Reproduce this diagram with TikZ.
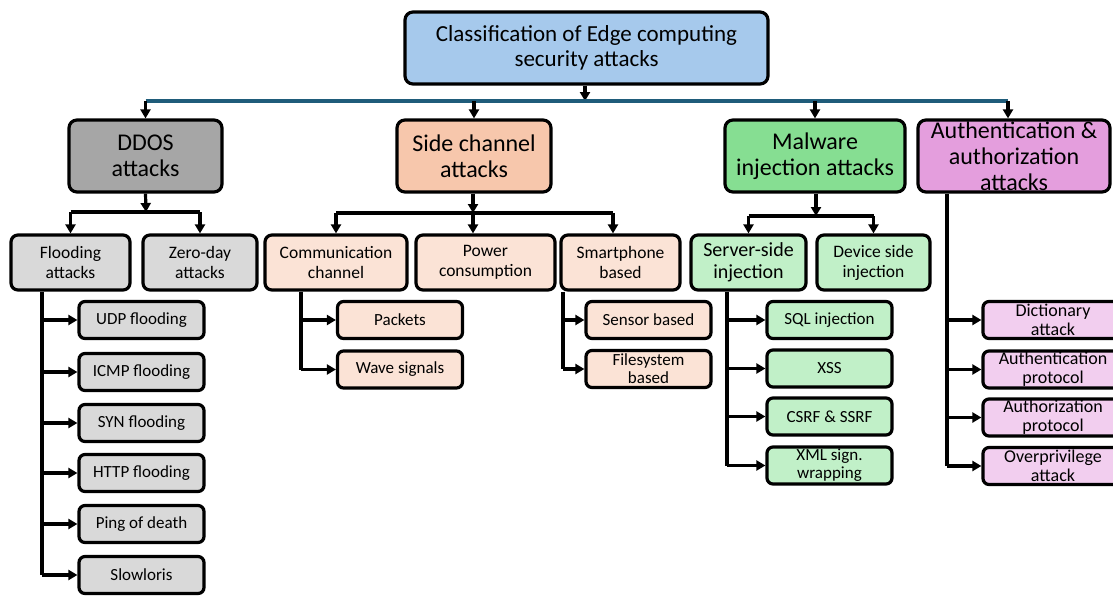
\documentclass[tikz,border=0pt]{standalone}
\usepackage{fontspec}
\setmainfont{Carlito}
\usetikzlibrary{arrows.meta}
\definecolor{rootc}{RGB}{166,201,236}
\definecolor{ddosc}{RGB}{166,166,166}
\definecolor{sidec}{RGB}{247,199,172}
\definecolor{malc}{RGB}{134,222,146}
\definecolor{authc}{RGB}{228,158,221}
\definecolor{ddosl}{RGB}{217,217,217}
\definecolor{sidel}{RGB}{251,227,214}
\definecolor{mall}{RGB}{193,240,200}
\definecolor{authl}{RGB}{242,206,239}
\definecolor{busc}{RGB}{31,92,122}
\tikzset{
  box/.style={draw=black, line width=3.2pt, rounded corners=8pt, inner sep=0pt, align=center},
  big/.style={box, minimum height=72pt, font=\fontsize{24}{26}\selectfont},
  mid/.style={box, minimum height=55pt, rounded corners=7pt, font=\fontsize{17.5}{20}\selectfont},
  small/.style={box, minimum height=37pt, minimum width=125pt, rounded corners=6pt, font=\fontsize{17}{18}\selectfont},
  ln/.style={line width=3.2pt, black},
  arr/.style={ln, -{Triangle[length=9pt,width=10pt]}},
}
\begin{document}
\begin{tikzpicture}[x=1pt,y=-1pt]
\useasboundingbox (0,0) rectangle (1113,595);
% level 0
\node[box, minimum width=363pt, minimum height=72pt, fill=rootc, font=\fontsize{23}{25}\selectfont] (root) at (586.5,48) {Classification of Edge computing\\security attacks};
% level 1
\node[big, minimum width=153pt, fill=ddosc] (ddos) at (145.5,156) {DDOS\\attacks};
\node[big, minimum width=154pt, fill=sidec] (side) at (474,156) {Side channel\\attacks};
\node[big, minimum width=180pt, fill=malc] (mal) at (815,156) {Malware\\injection attacks};
\node[big, minimum width=192pt, fill=authc] (auth) at (1014,156) {Authentication \&\\authorization\\attacks};
% level 2
\node[mid, minimum width=119pt, fill=ddosl] (flood) at (70.5,262.5) {Flooding\\attacks};
\node[mid, minimum width=114pt, fill=ddosl] (zero) at (200,262.5) {Zero-day\\attacks};
\node[mid, minimum width=142pt, fill=sidel] (comm) at (336,262.5) {Communication\\channel};
\node[mid, minimum width=139pt, fill=sidel] (power) at (485.5,262.5) {Power\\consumption};
\node[mid, minimum width=119pt, fill=sidel] (smart) at (620.5,262.5) {Smartphone\\based};
\node[mid, minimum width=115pt, fill=mall, font=\fontsize{20}{22}\selectfont] (server) at (748.5,262.5) {Server-side\\injection};
\node[mid, minimum width=113pt, fill=mall] (device) at (873.5,262.5) {Device side\\injection};
% level 3 - DDOS
\node[small, fill=ddosl] (udp) at (141.5,320) {UDP flooding};
\node[small, fill=ddosl] (icmp) at (141.5,372) {ICMP flooding};
\node[small, fill=ddosl] (syn) at (141.5,423) {SYN flooding};
\node[small, fill=ddosl] (http) at (141.5,473) {HTTP flooding};
\node[small, fill=ddosl] (ping) at (141.5,524) {Ping of death};
\node[small, fill=ddosl] (slow) at (141.5,575) {Slowloris};
% level 3 - side
\node[small, fill=sidel] (pack) at (400,320) {Packets};
\node[small, fill=sidel] (wave) at (400,369.5) {Wave signals};
\node[small, fill=sidel] (sens) at (648.5,320) {Sensor based};
\node[small, fill=sidel] (file) at (648.5,369) {Filesystem\\based};
% level 3 - malware
\node[small, fill=mall] (sql) at (829.5,320) {SQL injection};
\node[small, fill=mall] (xss) at (829.5,368.5) {XSS};
\node[small, fill=mall] (csrf) at (829.5,416.5) {CSRF \& SSRF};
\node[small, fill=mall] (xml) at (829.5,465.5) {XML sign.\\wrapping};
% level 3 - auth
\node[small, minimum width=140pt, fill=authl, font=\fontsize{18}{19}\selectfont] (dict) at (1053,320) {Dictionary\\attack};
\node[small, minimum width=140pt, fill=authl, font=\fontsize{18}{19}\selectfont] (authp) at (1053,369.5) {Authentication\\protocol};
\node[small, minimum width=140pt, fill=authl, font=\fontsize{18}{19}\selectfont] (autzp) at (1053,417.5) {Authorization\\protocol};
\node[small, minimum width=140pt, fill=authl, font=\fontsize{18}{19}\selectfont] (over) at (1053,466) {Overprivilege\\attack};
% bus level 0
\coordinate (bus) at (585,101);
\draw[arr] (root.south -| bus) -- (bus);
\draw[line width=3.2pt, busc] (ddos.north |- bus) -- (1008,101);
\draw[arr] (ddos.north |- bus) -- (ddos.north);
\draw[arr] (side.north |- bus) -- (side.north);
\draw[arr] (mal.north |- bus) -- (mal.north);
\draw[arr] (1008,101) -- (auth.north -| 1008,0);
% DDOS level 2
\coordinate (b1) at (146,212);
\draw[arr] (ddos.south) -- (b1);
\draw[ln] (flood.north |- b1) -- (zero.north |- b1);
\draw[arr] (flood.north |- b1) -- (flood.north);
\draw[arr] (zero.north |- b1) -- (zero.north);
% side level 2
\coordinate (b2) at (473,213);
\draw[arr] (side.south -| b2) -- (b2);
\draw[ln] (comm.north |- b2) -- (613,213);
\draw[arr] (comm.north |- b2) -- (comm.north);
\draw[arr] (b2) -- (power.north -| b2);
\draw[arr] (613,213) -- (smart.north -| 613,0);
% malware level 2
\coordinate (b3) at (816,216);
\draw[arr] (mal.south -| b3) -- (b3);
\draw[ln] (server.north |- b3) -- (device.north |- b3);
\draw[arr] (server.north |- b3) -- (server.north);
\draw[arr] (device.north |- b3) -- (device.north);
% flooding children
\coordinate (fx) at (42,0);
\draw[ln] (flood.south -| fx) -- (fx |- slow);
\foreach \n in {udp,icmp,syn,http,ping,slow} \draw[arr] (fx |- \n) -- (\n.west);
% communication children
\coordinate (cx) at (301,0);
\draw[ln] (comm.south -| cx) -- (cx |- wave);
\foreach \n in {pack,wave} \draw[arr] (cx |- \n) -- (\n.west);
% smartphone children
\coordinate (sx) at (563,0);
\draw[ln] (smart.south -| sx) -- (sx |- file);
\foreach \n in {sens,file} \draw[arr] (sx |- \n) -- (\n.west);
% server children
\coordinate (vx) at (727,0);
\draw[ln] (server.south -| vx) -- (vx |- xml);
\foreach \n in {sql,xss,csrf,xml} \draw[arr] (vx |- \n) -- (\n.west);
% auth children
\coordinate (ax) at (947,0);
\draw[ln] (auth.south -| ax) -- (ax |- over);
\foreach \n in {dict,authp,autzp,over} \draw[arr] (ax |- \n) -- (\n.west);
\end{tikzpicture}
\end{document}
